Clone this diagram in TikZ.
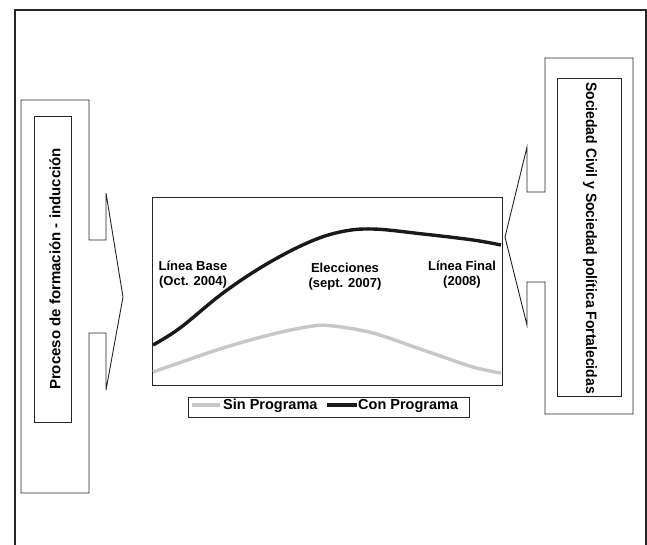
\documentclass[tikz,border=0pt]{standalone}
\usepackage{fontspec}
\setmainfont{Liberation Sans}
\usetikzlibrary{positioning}

\tikzset{
    callout/.style={draw=black!85, line width=0.9pt, line join=miter},
    label/.style={font=\bfseries\fontsize{13}{15}\selectfont, align=center, inner sep=0pt},
    sidetext/.style={font=\bfseries\fontsize{15}{17}\selectfont, inner sep=0pt},
    conprog/.style={line width=3.4pt, black!90},
    sinprog/.style={line width=3.4pt, black!22},
}

\begin{document}
\begin{tikzpicture}[x=1pt, y=-1pt]
        \useasboundingbox (0,0) rectangle (647,544);
        % marco exterior
        \draw[line width=1.2pt, black!85] (15,600) -- (15,10) -- (646,10) -- (646,600);

        % flecha izquierda
        \coordinate (l1) at (21,100);
        \coordinate (l2) at (89,100);
        \coordinate (l3) at (89,240);
        \coordinate (l4) at (106,240);
        \coordinate (l5) at (106,193);
        \coordinate (l6) at (123,297);
        \coordinate (l7) at (106,390);
        \coordinate (l8) at (106,333);
        \coordinate (l9) at (89,333);
        \coordinate (l10) at (89,493);
        \coordinate (l11) at (21,493);
        \draw[callout] (l1) -- (l2) -- (l3) -- (l4) -- (l5) -- (l6) -- (l7)
            -- (l8) -- (l9) -- (l10) -- (l11) -- cycle;
        \draw[callout] (34,116) rectangle (71,422);
        \node[sidetext, rotate=90] (proceso) at (55,269) {Proceso de formación - inducción};

        % flecha derecha
        \coordinate (r1) at (633,58);
        \coordinate (r2) at (545,58);
        \coordinate (r3) at (545,192);
        \coordinate (r4) at (527,192);
        \coordinate (r5) at (527,147);
        \coordinate (r6) at (505,237);
        \coordinate (r7) at (527,325);
        \coordinate (r8) at (527,282);
        \coordinate (r9) at (545,282);
        \coordinate (r10) at (545,414);
        \coordinate (r11) at (633,414);
        \draw[callout] (r1) -- (r2) -- (r3) -- (r4) -- (r5) -- (r6) -- (r7)
            -- (r8) -- (r9) -- (r10) -- (r11) -- cycle;
        \draw[callout] (557,78) rectangle (621,396);
        \node[sidetext, rotate=-90, xscale=0.93] (sociedad) at (590,238) {Sociedad Civil y Sociedad política Fortalecidas};

        % grafico
        \draw[callout] (152,197) rectangle (502,385);
        \draw[sinprog] plot[smooth, tension=0.55] coordinates {(153,372) (173,365) (223,348) (273,334)
            (313,326) (333,326) (373,333) (423,350) (473,367) (501,373)};
        \draw[conprog] plot[smooth, tension=0.6] coordinates {(153,345) (180,328) (223,293) (265,265)
            (307,243) (340,232) (373,229) (423,234) (473,240) (501,245)};
        \node[label] (base) at (193,275) {Línea Base\\(Oct. 2004)};
        \node[label] (elecciones) at (345,277) {Elecciones\\(sept. 2007)};
        \node[label] (final) at (462,275) {Línea Final\\(2008)};

        % leyenda
        \draw[callout] (188,397) rectangle (469,417);
        \draw[sinprog] (192,405) -- (220,405);
        \node[sidetext, anchor=west, font=\bfseries\fontsize{14.5}{16}\selectfont] (sin) at (223,406) {Sin Programa};
        \draw[conprog] (327,405) -- (357,405);
        \node[sidetext, anchor=west, font=\bfseries\fontsize{14.5}{16}\selectfont] (con) at (358,406) {Con Programa};
\end{tikzpicture}
\end{document}
